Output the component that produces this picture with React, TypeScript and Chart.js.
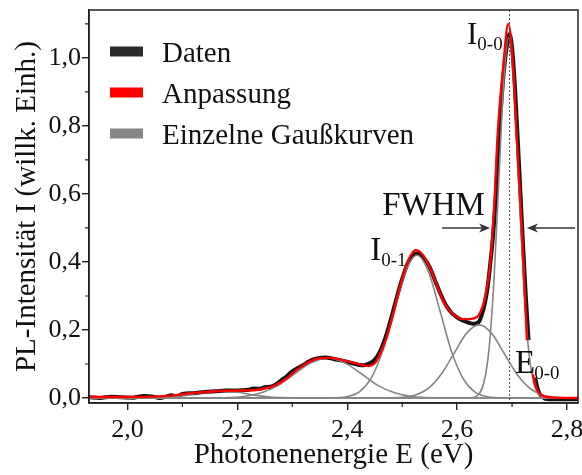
import React, { useEffect, useRef } from 'react';
import { Chart, registerables } from 'chart.js';

Chart.register(...registerables);

// Measured PL data (black)
const dataE = [1.93, 1.95, 1.97, 1.99, 2.01, 2.03, 2.05, 2.06, 2.07, 2.08, 2.09, 2.10, 2.12, 2.14, 2.16, 2.18, 2.20, 2.22, 2.23, 2.24, 2.25, 2.26, 2.27, 2.28, 2.29, 2.30, 2.31, 2.32, 2.33, 2.34, 2.35, 2.36, 2.37, 2.38, 2.39, 2.40, 2.41, 2.42, 2.43, 2.44, 2.45, 2.46, 2.47, 2.48, 2.49, 2.50, 2.51, 2.52, 2.53, 2.54, 2.55, 2.56, 2.57, 2.58, 2.59, 2.60, 2.61, 2.62, 2.63, 2.64, 2.645, 2.65, 2.655, 2.66, 2.665, 2.67, 2.675, 2.68, 2.685, 2.69, 2.695, 2.70, 2.705, 2.71, 2.715, 2.72, 2.725, 2.73, 2.736, 2.742, 2.746, 2.75, 2.755, 2.76, 2.78, 2.80, 2.82];
const dataI = [0.002, 0.000, 0.004, 0.002, 0.001, 0.006, 0.003, 0.000, 0.004, 0.008, 0.003, 0.012, 0.014, 0.018, 0.020, 0.022, 0.022, 0.024, 0.028, 0.027, 0.032, 0.033, 0.040, 0.052, 0.064, 0.078, 0.088, 0.097, 0.107, 0.114, 0.118, 0.119, 0.117, 0.113, 0.110, 0.106, 0.102, 0.098, 0.096, 0.101, 0.112, 0.138, 0.180, 0.235, 0.295, 0.350, 0.395, 0.422, 0.425, 0.410, 0.385, 0.345, 0.305, 0.272, 0.250, 0.237, 0.228, 0.222, 0.218, 0.225, 0.245, 0.275, 0.320, 0.390, 0.470, 0.580, 0.740, 0.860, 0.960, 1.030, 1.070, 1.030, 0.920, 0.770, 0.610, 0.450, 0.300, 0.170, null, 0.060, 0.030, 0.013, 0.004, -0.002, -0.004, -0.004, -0.003];

// Fit (red)
const fitE = [1.93, 2.00, 2.05, 2.08, 2.10, 2.13, 2.16, 2.20, 2.23, 2.25, 2.27, 2.29, 2.31, 2.33, 2.35, 2.37, 2.39, 2.41, 2.43, 2.44, 2.45, 2.46, 2.47, 2.48, 2.49, 2.50, 2.51, 2.52, 2.525, 2.53, 2.54, 2.55, 2.56, 2.57, 2.58, 2.59, 2.60, 2.61, 2.62, 2.63, 2.64, 2.65, 2.66, 2.668, 2.674, 2.684, 2.693, 2.702, 2.708, 2.715, 2.721, 2.727, 2.733, 2.738, 2.742, 2.746, 2.752, 2.76, 2.78, 2.82];
const fitI = [0.003, 0.003, 0.004, 0.007, 0.011, 0.016, 0.020, 0.022, 0.023, 0.028, 0.038, 0.058, 0.085, 0.106, 0.117, 0.118, 0.112, 0.104, 0.096, 0.094, 0.102, 0.130, 0.170, 0.225, 0.290, 0.350, 0.400, 0.430, 0.435, 0.432, 0.415, 0.385, 0.345, 0.303, 0.270, 0.250, 0.238, 0.232, 0.232, 0.234, 0.245, 0.290, 0.390, 0.580, 0.780, 0.975, 1.100, 0.975, 0.780, 0.580, 0.390, 0.170, null, 0.070, 0.040, 0.022, 0.010, 0.004, 0.001, 0.000];

// Single Gaussian components (grey)
const gaussAE = [1.93, 2.035, 2.058, 2.08, 2.103, 2.125, 2.148, 2.17, 2.193, 2.215, 2.238, 2.26, 2.283, 2.305, 2.82];
const gaussAI = [0, 0.0002, 0.001, 0.003, 0.007, 0.013, 0.019, 0.022, 0.019, 0.013, 0.007, 0.003, 0.001, 0.0002, 0];

const gaussBE = [1.93, 2.125, 2.155, 2.185, 2.215, 2.245, 2.275, 2.305, 2.335, 2.365, 2.395, 2.425, 2.455, 2.485, 2.515, 2.545, 2.575, 2.605, 2.82];
const gaussBI = [0, 0, 0.0003, 0.0013, 0.0052, 0.016, 0.038, 0.072, 0.104, 0.118, 0.104, 0.072, 0.038, 0.016, 0.0052, 0.0013, 0.0003, 0, 0];

const gaussCE = [1.93, 2.359, 2.38, 2.401, 2.422, 2.443, 2.464, 2.485, 2.506, 2.527, 2.548, 2.569, 2.59, 2.611, 2.632, 2.653, 2.674, 2.695, 2.82];
const gaussCI = [0, 0.0001, 0.0009, 0.0047, 0.018, 0.057, 0.136, 0.255, 0.371, 0.420, 0.371, 0.255, 0.136, 0.057, 0.018, 0.0047, 0.0009, 0.0001, 0];

const gaussDE = [1.93, 2.456, 2.479, 2.502, 2.525, 2.548, 2.571, 2.594, 2.617, 2.64, 2.663, 2.686, 2.709, 2.732, 2.755, 2.778, 2.801, 2.82];
const gaussDI = [0, 0, 0.0005, 0.0024, 0.0094, 0.029, 0.070, 0.130, 0.190, 0.215, 0.190, 0.130, 0.070, 0.029, 0.0094, 0.0024, 0.0005, 0];

const gaussEE = [1.93, 2.622, 2.631, 2.64, 2.649, 2.658, 2.667, 2.676, 2.685, 2.694, 2.703, 2.712, 2.721, 2.73, 2.739, 2.748, 2.757, 2.766, 2.82];
const gaussEI = [0, 0.0003, 0.0023, 0.012, 0.047, 0.143, 0.344, 0.643, 0.936, 1.06, 0.936, 0.643, 0.344, 0.143, 0.047, 0.012, 0.0023, 0.0003, 0];

const xMajorTicks = [2.0, 2.2, 2.4, 2.6, 2.8];
const xMinorTicks = [2.1, 2.3, 2.5, 2.7];
const yMajorTicks = [0.0, 0.2, 0.4, 0.6, 0.8, 1.0];
const yMinorTicks = [0.1, 0.3, 0.5, 0.7, 0.9, 1.1];

const legendLabels = ['Daten', 'Anpassung', 'Einzelne Gaußkurven'];
const e00Line = 2.694;

const SERIF = '"Liberation Serif", "Times New Roman", serif';
const BLACK = '#141414';
const RED = '#ff0000';
const GREY = '#858585';

const zip = (xs: number[], ys: (number | null)[]) => xs.map((x, i) => ({ x, y: ys[i] }));

const overlayPlugin = {
  id: 'overlay',
  afterDatasetsDraw(chart: any) {
    const { ctx, chartArea: a, scales } = chart;
    const xs = scales.x;
    const ys = scales.y;
    ctx.save();

    // dotted E0-0 line
    ctx.strokeStyle = '#555';
    ctx.lineWidth = 1;
    ctx.setLineDash([2, 2]);
    const lx = Math.round(xs.getPixelForValue(e00Line)) + 0.5;
    ctx.beginPath();
    ctx.moveTo(lx, a.top);
    ctx.lineTo(lx, a.bottom);
    ctx.stroke();
    ctx.setLineDash([]);

    // frame
    ctx.strokeStyle = '#222';
    ctx.lineWidth = 1.5;
    ctx.strokeRect(a.left, a.top, a.right - a.left, a.bottom - a.top);

    // minor ticks
    ctx.lineWidth = 1.2;
    ctx.beginPath();
    xMinorTicks.forEach((v) => {
      const p = xs.getPixelForValue(v);
      ctx.moveTo(p, a.bottom);
      ctx.lineTo(p, a.bottom + 4);
    });
    yMinorTicks.forEach((v) => {
      const p = ys.getPixelForValue(v);
      ctx.moveTo(a.left, p);
      ctx.lineTo(a.left - 4, p);
    });
    ctx.stroke();

    // legend
    const colors = [BLACK, RED, GREY];
    ctx.font = `29px ${SERIF}`;
    ctx.textAlign = 'left';
    ctx.textBaseline = 'alphabetic';
    legendLabels.forEach((t, i) => {
      const cy = a.top + 41.5 + i * 41;
      ctx.fillStyle = i === 0 ? '#2a2a2a' : colors[i];
      ctx.fillRect(a.left + 21, cy - 5, 33, 10);
      ctx.fillStyle = '#111';
      ctx.fillText(t, a.left + 73, cy + 10);
    });

    // annotations
    const X = (v: number) => xs.getPixelForValue(v);
    const Y = (v: number) => ys.getPixelForValue(v);
    ctx.fillStyle = '#111';
    const label = (main: string, sub: string, x: number, y: number, size: number, subSize: number, subDx: number, subDy: number) => {
      ctx.font = `${size}px ${SERIF}`;
      ctx.fillText(main, X(x), Y(y));
      if (sub) {
        const w = ctx.measureText(main).width;
        ctx.font = `${subSize}px ${SERIF}`;
        ctx.fillText(sub, X(x) + w + subDx, Y(y) + subDy);
      }
    };
    label('I', '0-0', 2.618, 1.041, 31, 19, 0, 6);
    label('FWHM', '', 2.4636, 0.538, 33, 19, 0, 0);
    label('I', '0-1', 2.4418, 0.406, 33, 19, 0, 6);
    label('E', '0-0', 2.7055, 0.0744, 33, 19, -1, 6);

    // FWHM arrows
    ctx.strokeStyle = '#333';
    ctx.fillStyle = '#333';
    ctx.lineWidth = 1.5;
    const arrow = (fromV: number, toV: number, yv: number) => {
      const x0 = X(fromV), x1 = X(toV), yy = Y(yv);
      const dir = Math.sign(x1 - x0);
      ctx.beginPath();
      ctx.moveTo(x0, yy);
      ctx.lineTo(x1 - dir * 6, yy);
      ctx.stroke();
      ctx.beginPath();
      ctx.moveTo(x1, yy);
      ctx.lineTo(x1 - dir * 11, yy - 4.5);
      ctx.lineTo(x1 - dir * 8, yy);
      ctx.lineTo(x1 - dir * 11, yy + 4.5);
      ctx.closePath();
      ctx.fill();
    };
    arrow(2.5727, 2.66, 0.5);
    arrow(2.8145, 2.727, 0.5);

    ctx.restore();
  },
};

export default function App() {
  const ref = useRef<HTMLCanvasElement | null>(null);

  useEffect(() => {
    document.body.style.margin = '0';
    const canvas = ref.current;
    if (!canvas) return;

    const greyDs = (xs: number[], ys: number[]) => ({
      data: zip(xs, ys),
      borderColor: GREY,
      borderWidth: 1.6,
      pointRadius: 0,
      cubicInterpolationMode: 'monotone' as const,
      order: 2,
    });

    const chart = new Chart(canvas, {
      type: 'line',
      data: {
        datasets: [
          {
            label: legendLabels[0],
            data: zip(dataE, dataI),
            borderColor: BLACK,
            borderWidth: 4,
            pointRadius: 0,
            spanGaps: false,
            cubicInterpolationMode: 'monotone',
            order: 3,
          },
          greyDs(gaussAE, gaussAI),
          greyDs(gaussBE, gaussBI),
          greyDs(gaussCE, gaussCI),
          greyDs(gaussDE, gaussDI),
          greyDs(gaussEE, gaussEI),
          {
            label: legendLabels[1],
            data: zip(fitE, fitI),
            borderColor: RED,
            borderWidth: 2.4,
            pointRadius: 0,
            spanGaps: false,
            cubicInterpolationMode: 'monotone',
            order: 1,
          },
        ] as any,
      },
      options: {
        animation: false,
        responsive: false,
        devicePixelRatio: 1,
        layout: { padding: { top: 10, right: 4, left: 0, bottom: 0 } },
        plugins: { legend: { display: false }, tooltip: { enabled: false } },
        scales: {
          x: {
            type: 'linear',
            min: 1.93,
            max: 2.82,
            afterBuildTicks: (s: any) => {
              s.ticks = xMajorTicks.map((v) => ({ value: v }));
            },
            afterFit: (s: any) => {
              s.height = 72;
              s.paddingLeft = 0;
              s.paddingRight = 0;
            },
            ticks: {
              color: '#111',
              font: { family: SERIF, size: 26 },
              padding: 5,
              maxRotation: 0,
              callback: (v: any) => Number(v).toFixed(1).replace('.', ','),
            },
            grid: { drawOnChartArea: false, color: '#222', lineWidth: 1.4, tickLength: 7 },
            border: { color: '#222', width: 1.5 },
            title: {
              display: true,
              text: 'Photonenenergie E (eV)',
              color: '#111',
              font: { family: SERIF, size: 29 },
              padding: { top: 0, bottom: 2 },
            },
          },
          y: {
            type: 'linear',
            min: -0.0147,
            max: 1.141,
            afterBuildTicks: (s: any) => {
              s.ticks = yMajorTicks.map((v) => ({ value: v }));
            },
            afterFit: (s: any) => {
              s.width = 89;
              s.paddingTop = 0;
              s.paddingBottom = 0;
            },
            ticks: {
              color: '#111',
              font: { family: SERIF, size: 26 },
              padding: 1,
              callback: (v: any) => Number(v).toFixed(1).replace('.', ','),
            },
            grid: { drawOnChartArea: false, color: '#222', lineWidth: 1.4, tickLength: 7 },
            border: { color: '#222', width: 1.5 },
            title: {
              display: true,
              text: 'PL-Intensität I (willk. Einh.)',
              color: '#111',
              font: { family: SERIF, size: 29 },
              padding: { top: 10, bottom: 0 },
            },
          },
        },
      },
      plugins: [overlayPlugin],
    });

    return () => chart.destroy();
  }, []);

  return (
    <div style={{ width: 582, height: 475, background: '#fff' }}>
      <canvas ref={ref} width={582} height={475} style={{ display: 'block' }} />
    </div>
  );
}
